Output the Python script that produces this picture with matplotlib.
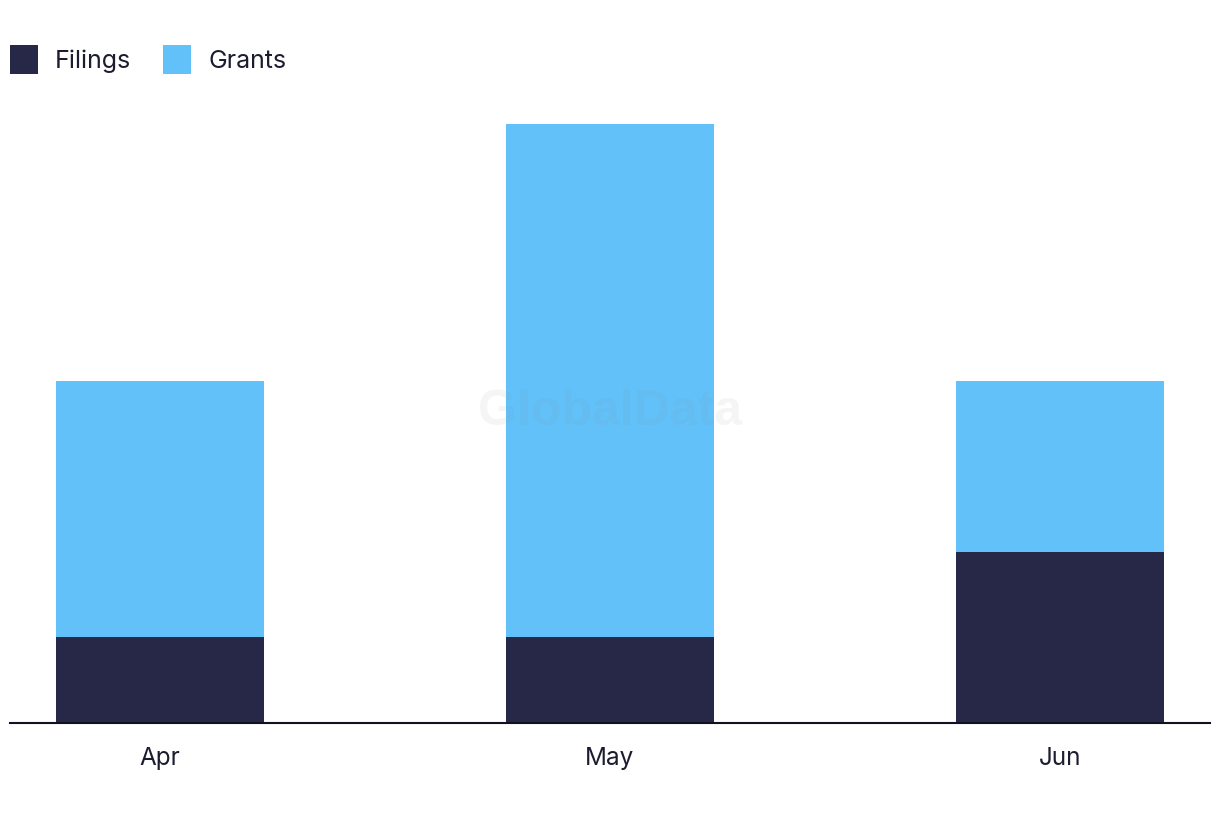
import matplotlib
matplotlib.use("Agg")
import matplotlib.pyplot as plt
import numpy as np

categories = ["Apr", "May", "Jun"]
filings = [1, 1, 2]
grants = [3, 6, 2]

dark = "#272848"
light = "#62C1F9"
text_color = "#1c1c30"

plt.rcParams['font.family'] = ['Inter', 'DejaVu Sans']

fig = plt.figure(figsize=(12.2, 8.22), dpi=100)
ax = fig.add_axes([10/1220, 1-723/822, 1200/1220, (723-124)/822])

x = np.arange(len(categories))
w = 0.462
b1 = ax.bar(x, filings, width=w, color=dark, label="Filings", zorder=2)
b2 = ax.bar(x, grants, width=w, bottom=filings, color=light, label="Grants", zorder=2)

ax.set_xlim(-1/3, 2 + 1/3)
ax.set_ylim(0, 7)
ax.set_xticks(x)
ax.set_xticklabels(categories, fontsize=17.5, color=text_color)
ax.tick_params(axis='x', length=0, pad=17)
ax.set_yticks([])
for s in ["top", "right", "left"]:
    ax.spines[s].set_visible(False)
ax.spines["bottom"].set_color("#111122")
ax.spines["bottom"].set_linewidth(1.5)

ax.text(0.5, 0.52, "GlobalData", transform=ax.transAxes, ha="center", va="center",
        fontsize=36, fontweight="bold", family="Liberation Sans",
        color="#888888", alpha=0.08, zorder=5)

leg = fig.legend(handles=[b1, b2], labels=["Filings", "Grants"], loc="upper left",
                 bbox_to_anchor=(10/1220, 1-45/822), ncol=2, frameon=False,
                 fontsize=18, handlelength=1.12, handleheight=1.42,
                 handletextpad=0.68, columnspacing=1.28, borderaxespad=0,
                 borderpad=0)
for t in leg.get_texts():
    t.set_color(text_color)

fig.savefig("out.png", dpi=100)
